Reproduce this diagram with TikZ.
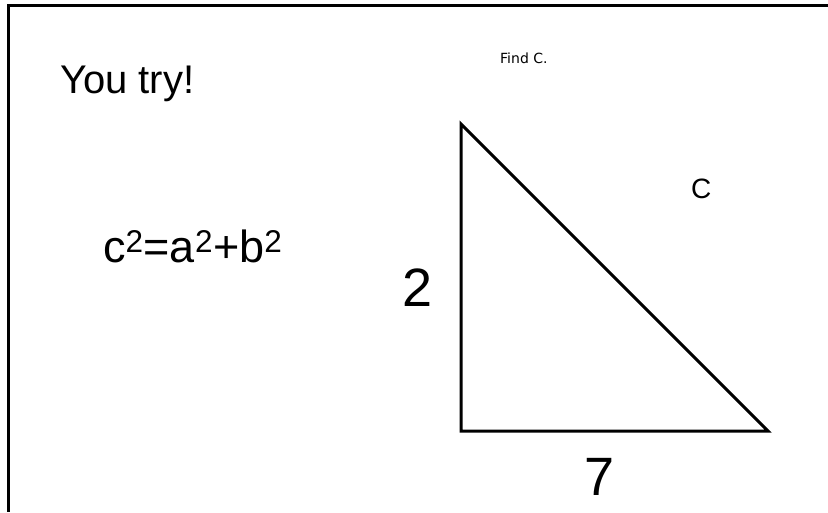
\documentclass[tikz,border=0pt]{standalone}
\usepackage{fontspec}
\setmainfont{Liberation Sans}
\newfontfamily\verdanafont{DejaVu Sans}
\usetikzlibrary{positioning}

\begin{document}
\begin{tikzpicture}[
    x=1pt, y=-1pt,
    frame/.style={line width=3pt, black},
    side/.style={line width=3pt, black, line join=miter},
    label/.style={inner sep=0pt, anchor=base west},
    big/.style={label, font=\fontsize{40}{48}\selectfont},
    formula/.style={label, font=\fontsize{45}{54}\selectfont},
    length/.style={label, font=\fontsize{54}{64}\selectfont}
]
\useasboundingbox (0,0) rectangle (828,512);
\fill[white] (0,0) rectangle (828,512);

% slide edges
\coordinate (tl) at (8.5,5.5);
\coordinate (tr) at (828,5.5);
\coordinate (bl) at (8.5,512);
\draw[frame] (tr) -- (tl) -- (bl);

% heading and question
\node[big] (try) at (60,93) {You try!};
\node[label, font=\verdanafont\fontsize{14}{16}\selectfont] (find) at (500,63) {Find C.};

% the rule
\node[formula] (rule) at (103,262) {c\textsuperscript{2}=a\textsuperscript{2}+b\textsuperscript{2}};

% right triangle
\coordinate (top)   at (461,124);
\coordinate (right) at (768,431);
\coordinate (left)  at (461,431);
\draw[side] (top) -- (left) -- (right) -- cycle;

% side labels
\node[length] (a) at (402,306) {2};
\node[length] (b) at (584,495) {7};
\node[label, font=\fontsize{28}{34}\selectfont] (c) at (691,198) {C};
\end{tikzpicture}
\end{document}
